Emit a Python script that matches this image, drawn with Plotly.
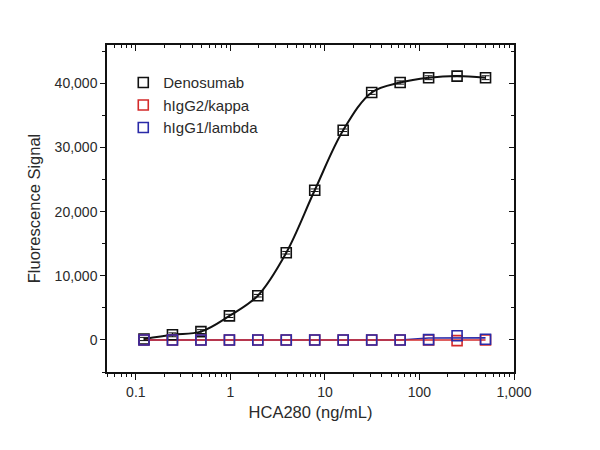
import plotly.graph_objects as go

conc = [0.122, 0.244, 0.488, 0.977, 1.95, 3.9, 7.8, 15.6, 31.25, 62.5, 125, 250, 500]
denosumab = [150, 800, 1300, 3750, 6900, 13600, 23350, 32700, 38600, 40150, 40900, 41150, 40900]
igg2_kappa = [0, 0, 0, 0, 0, 0, 0, 0, 0, 0, 0, -100, 0]
igg1_lambda = [0, 0, 0, 0, 0, 0, 0, 0, 0, 0, 50, 650, 100]
igg1_lambda_fit = [0, 0, 0, 0, 0, 0, 0, 0, 0, 0, 300, 330, 330]
err_den = [250, 300, 300, 250, 200, 200, 200, 200, 300, 250, 300, 100, 300]

x_tickvals = [0.1, 1, 10, 100, 1000]
x_ticktext = ["0.1", "1", "10", "100", "1,000"]
y_tickvals = [0, 10000, 20000, 30000, 40000]

FONT = "Liberation Sans, Arial, sans-serif"
BLACK = "#111111"
TXT = "#2a2a2a"
RED = "#d42a2a"
BLUE = "#2a2aa8"

fig = go.Figure()

# fitted/connecting lines
fig.add_trace(go.Scatter(x=conc, y=igg1_lambda_fit, mode="lines", line=dict(color=BLUE, width=1.6), showlegend=False, hoverinfo="skip"))
fig.add_trace(go.Scatter(x=conc, y=igg2_kappa, mode="lines", line=dict(color=RED, width=1.6), showlegend=False, hoverinfo="skip"))
fig.add_trace(go.Scatter(x=conc, y=denosumab, mode="lines", line=dict(color=BLACK, width=2, shape="spline", smoothing=1.0), showlegend=False, hoverinfo="skip"))

# markers
fig.add_trace(go.Scatter(x=conc, y=denosumab, mode="markers", name="Denosumab",
                         marker=dict(symbol="square-open", size=10, color=BLACK, line=dict(width=1.6)),
                         error_y=dict(type="data", array=err_den, color=BLACK, thickness=1, width=4)))
fig.add_trace(go.Scatter(x=conc, y=igg2_kappa, mode="markers", name="hIgG2/kappa",
                         marker=dict(symbol="square-open", size=10, color=RED, line=dict(width=1.6))))
fig.add_trace(go.Scatter(x=conc, y=igg1_lambda, mode="markers", name="hIgG1/lambda",
                         marker=dict(symbol="square-open", size=10, color=BLUE, line=dict(width=1.6))))

# invisible trace for mirror axes
fig.add_trace(go.Scatter(x=[1], y=[0], xaxis="x2", yaxis="y2", mode="markers",
                         marker=dict(opacity=0), showlegend=False, hoverinfo="skip"))

xr = [-1.305, 3.0]
yr = [-5000, 46000]

fig.update_layout(
    width=600, height=450,
    margin=dict(l=107, r=86, t=45, b=78),
    paper_bgcolor="white", plot_bgcolor="white",
    font=dict(family=FONT, size=14, color=TXT),
    showlegend=True,
    legend=dict(x=0.04, y=0.935, xanchor="left", yanchor="top", bgcolor="rgba(0,0,0,0)",
                font=dict(family=FONT, size=15, color=TXT), itemwidth=30, tracegroupgap=0),
    xaxis=dict(type="log", range=xr, showline=True, linecolor=BLACK, linewidth=1.5,
               ticks="outside", ticklen=6, tickwidth=1.2, tickcolor=BLACK,
               tickmode="array", tickvals=x_tickvals, ticktext=x_ticktext,
               tickfont=dict(size=14, color=TXT),
               minor=dict(ticks="outside", ticklen=3, tickwidth=1, tickcolor=BLACK, dtick="D1", showgrid=False),
               showgrid=False, zeroline=False,
               title=dict(text="HCA280 (ng/mL)", font=dict(size=16.5, color=TXT), standoff=8)),
    yaxis=dict(range=yr, showline=True, linecolor=BLACK, linewidth=1.5,
               ticks="outside", ticklen=5, tickwidth=1.2, tickcolor=BLACK,
               tickmode="array", tickvals=y_tickvals, tickformat=",",
               tickfont=dict(size=14, color=TXT),
               minor=dict(ticks="outside", ticklen=3, tickwidth=1, tickcolor=BLACK, dtick=5000, tick0=-5000, showgrid=False),
               showgrid=False, zeroline=False,
               title=dict(text="Fluorescence Signal", font=dict(size=16.5, color=TXT), standoff=10)),
    xaxis2=dict(type="log", range=xr, overlaying="x", side="top", showline=True, linecolor=BLACK, linewidth=1.5,
                ticks="inside", ticklen=6, tickwidth=1.2, tickcolor=BLACK,
                tickmode="array", tickvals=x_tickvals, showticklabels=False,
                minor=dict(ticks="inside", ticklen=3, tickwidth=1, tickcolor=BLACK, dtick="D1", showgrid=False),
                showgrid=False, zeroline=False),
    yaxis2=dict(range=yr, overlaying="y", side="right", showline=True, linecolor=BLACK, linewidth=1.5,
                ticks="inside", ticklen=5, tickwidth=1.2, tickcolor=BLACK,
                tickmode="array", tickvals=y_tickvals, showticklabels=False,
                minor=dict(ticks="inside", ticklen=3, tickwidth=1, tickcolor=BLACK, dtick=5000, tick0=-5000, showgrid=False),
                showgrid=False, zeroline=False),
)

fig.write_html("out.html")
